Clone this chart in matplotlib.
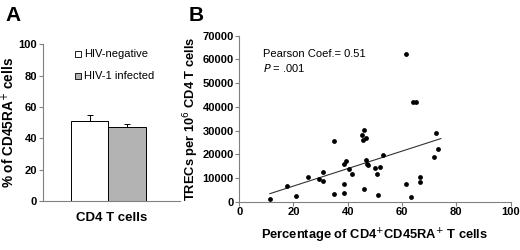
import numpy as np
import matplotlib
matplotlib.use("Agg")
import matplotlib.pyplot as plt

plt.rcParams['font.family'] = ['Liberation Sans', 'DejaVu Sans']

# Panel A data
groups = ['HIV-negative', 'HIV-1 infected']
pct_cd45ra = [51.0, 47.0]
pct_err = [3.8, 2.0]
bar_colors = ['white', '#b3b3b3']

# Panel B data (% CD4+CD45RA+ vs TRECs per 10^6 CD4 T cells)
pct_naive = [11.3, 17.5, 20.8, 25.4, 29.5, 31.0, 31.0, 35.0, 34.8, 38.6, 39.3,
             38.6, 38.6, 40.6, 41.6, 45.2, 46.1, 45.6, 46.7, 46.1, 46.6, 47.0,
             47.3, 50.1, 50.7, 52.0, 53.1, 51.2, 61.5, 63.2, 66.5, 66.7, 71.6,
             72.4, 73.1, 61.4, 64.0, 65.0]
trecs = [1100, 6500, 2400, 10500, 9600, 12700, 8600, 25700, 3300, 15800, 17200,
         7300, 3500, 13900, 11500, 28100, 30100, 25900, 26700, 5400, 17500, 15900,
         15300, 14200, 11500, 14800, 19700, 2900, 7600, 2000, 10400, 8400, 18900,
         29100, 22400, 62200, 42000, 42000]
fit_x = [11.3, 74.3]

axis_grey = '#808080'

fig = plt.figure(figsize=(5.2, 2.5), dpi=100)

# ---- Panel A ----
axA = fig.add_axes([0.082, 0.195, 0.264, 0.628])
xpos = [-0.5, 0.5]
axA.bar(xpos, pct_cd45ra, width=1.0, color=bar_colors, edgecolor='black',
        linewidth=0.7, zorder=2)
axA.errorbar(xpos, pct_cd45ra, yerr=[[0, 0], pct_err], fmt='none',
             ecolor='black', elinewidth=0.7, capsize=2.5, capthick=0.7, zorder=3)
axA.set_xlim(-1.76, 1.92)
axA.set_ylim(0, 100)
axA.set_yticks(range(0, 101, 20))
axA.set_xticks([])
axA.set_xlabel('CD4 T cells', fontsize=9.5, fontweight='bold', labelpad=8)
axA.set_ylabel('% of CD45RA$^{+}$ cells', fontsize=9.8, fontweight='bold', labelpad=1)
for s in ['top', 'right']:
    axA.spines[s].set_visible(False)
for s in ['left', 'bottom']:
    axA.spines[s].set_color(axis_grey)
axA.tick_params(axis='y', colors='black', length=3, width=0.8, labelsize=8, pad=1,
                color=axis_grey)
for lab in axA.get_yticklabels():
    lab.set_fontweight('bold')
# legend
leg_y = [93.8, 79.8]
for c, g, yy in zip(bar_colors, groups, leg_y):
    axA.scatter([-0.80], [yy], marker='s', s=24, facecolor=c, edgecolor='black',
                linewidth=0.6, zorder=4, clip_on=False)
    axA.text(-0.66, yy, g, fontsize=8, va='center', ha='left')

fig.text(0.010, 0.975, 'A', fontsize=15, fontweight='bold', va='top', ha='left')

# ---- Panel B ----
axB = fig.add_axes([0.460, 0.193, 0.522, 0.664])
axB.scatter(pct_naive, trecs, s=12, color='black', zorder=3, linewidths=0)
coef = np.polyfit(pct_naive, trecs, 1)
axB.plot(fit_x, np.polyval(coef, fit_x), color='#333333', linewidth=0.8, zorder=2)
axB.set_xlim(0, 100)
axB.set_ylim(0, 70000)
axB.set_xticks(range(0, 101, 20))
axB.set_yticks(range(0, 70001, 10000))
for s in ['top', 'right']:
    axB.spines[s].set_visible(False)
for s in ['left', 'bottom']:
    axB.spines[s].set_color(axis_grey)
axB.tick_params(axis='both', labelsize=8, length=3, width=0.8, pad=1,
                color=axis_grey)
for lab in axB.get_xticklabels() + axB.get_yticklabels():
    lab.set_fontweight('bold')
axB.set_xlabel('Percentage of CD4$^{+}$CD45RA$^{+}$ T cells', fontsize=9.3,
               fontweight='bold', labelpad=7)
axB.set_ylabel('TRECs per 10$^{6}$ CD4 T cells', fontsize=9.3, fontweight='bold',
               labelpad=1)
axB.text(8.6, 62300, 'Pearson Coef.= 0.51', fontsize=8, va='center', ha='left')
axB.text(8.6, 56400, '$P$ = .001', fontsize=8, va='center', ha='left')

fig.text(0.363, 0.975, 'B', fontsize=15, fontweight='bold', va='top', ha='left')

fig.savefig('out.png', dpi=100)
